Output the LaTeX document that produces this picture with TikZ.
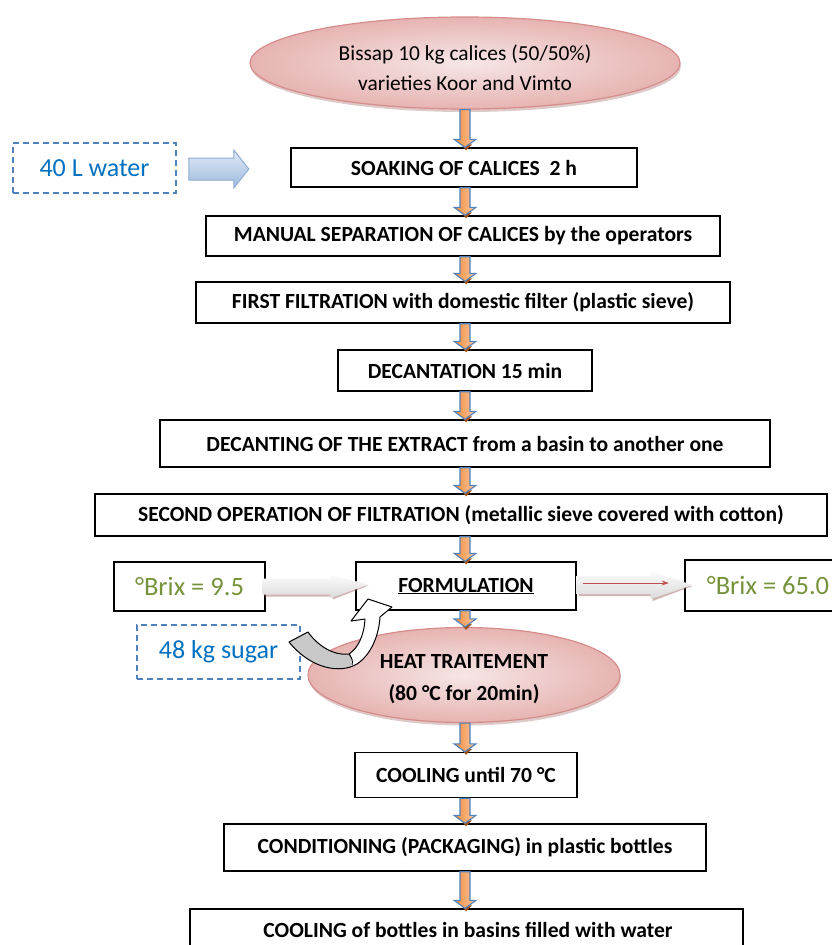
\documentclass[tikz,border=0pt]{standalone}
\usepackage{fontspec}
\setmainfont{Carlito}
\usetikzlibrary{calc,shapes.geometric,shadows,arrows.meta}
\definecolor{txtblue}{RGB}{0,112,192}
\definecolor{txtgreen}{RGB}{118,146,60}
\definecolor{dashblue}{RGB}{79,129,189}
\definecolor{ellline}{RGB}{214,140,138}
\definecolor{ellin}{RGB}{246,230,230}
\definecolor{ellout}{RGB}{230,180,178}
\definecolor{arrorange}{RGB}{240,140,60}
\definecolor{arrlight}{RGB}{250,200,160}
\definecolor{wblueA}{RGB}{224,234,246}
\definecolor{wblueB}{RGB}{158,186,222}
\definecolor{wblueline}{RGB}{140,172,212}
\definecolor{redarr}{RGB}{192,80,77}
\definecolor{shadowbrown}{RGB}{170,120,118}
\definecolor{tipbrown}{RGB}{160,80,20}
\definecolor{curvgray}{RGB}{200,200,200}
\tikzset{
  stepbox/.style={draw=black, line width=1.4pt, inner sep=0pt, font=\bfseries\fontsize{21.6}{25}\selectfont},
  infobox/.style={draw=dashblue, line width=1.6pt, dash pattern=on 6pt off 4pt, inner sep=0pt, text=txtblue, font=\fontsize{26}{30}\selectfont},
  brixbox/.style={draw=black, line width=1.4pt, inner sep=0pt, text=txtgreen, font=\fontsize{26.5}{30}\selectfont},
  oval/.style={ellipse, draw=ellline, line width=1.2pt, inner color=ellin, outer color=ellout, inner sep=0pt,
    drop shadow={shadow xshift=1pt, shadow yshift=-3pt, fill=shadowbrown, opacity=0.4}},
  ovaltext/.style={align=center, inner sep=0pt},
  blkarrow/.style={draw=dashblue, line width=1.1pt, left color=arrorange, right color=arrlight, line join=miter},
  waterarrow/.style={draw=wblueline, line width=1pt, top color=wblueA, bottom color=wblueB},
  grayarrow/.style={draw=none, top color=gray!3, bottom color=gray!28},
  grayshadow/.style={fill=shadowbrown, opacity=0.55},
}
\newcommand\flowarrow[2]{%
  \path (#1.south -| axis) coordinate (fa-s) (#2.north -| axis) coordinate (fa-t);
  \fill[tipbrown] ($(fa-t)+(-4,-3)$) -- ($(fa-t)+(7,-3)$) -- ($(fa-t)+(1,3)$) -- cycle;
  \draw[blkarrow] ($(fa-s)+(-5,0)$) -- ($(fa-t)+(-5,-8)$) -- ($(fa-t)+(-11,-8)$) -- (fa-t)
     -- ($(fa-t)+(11,-8)$) -- ($(fa-t)+(5,-8)$) -- ($(fa-s)+(5,0)$) -- cycle;}
\def\curvpath{(289,642) .. controls (311,669) and (340,674) .. (357,664) .. controls (372,654) and (379,634) .. (380,617) -- (392,607) -- (368,599) -- (351,621) -- (365,619) .. controls (364,636) and (358,648) .. (349,654) .. controls (334,656) and (318,646) .. (308,632) -- cycle}
\begin{document}
\begin{tikzpicture}[x=1pt,y=-1pt]
\useasboundingbox (0,0) rectangle (832,945);
\coordinate (axis) at (465,0);

% ovals
\node[oval, minimum width=430pt, minimum height=92pt] (src) at (465,63) {};
\node[ovaltext, font=\fontsize{21.4}{30}\selectfont] (srctxt) at (465,68)
  {Bissap 10 kg calices (50/50\%)\\varieties Koor and Vimto};
\node[oval, minimum width=312pt, minimum height=95pt] (heat) at (464,675) {};
\node[ovaltext, font=\bfseries\fontsize{21.6}{32}\selectfont] (heattxt) at (464,679)
  {HEAT TRAITEMENT\\(80 °C for 20min)};

% process boxes
\node[stepbox, minimum width=346pt, minimum height=39pt] (b1) at (464,167.5) {SOAKING OF CALICES\ \ 2 h};
\node[stepbox, minimum width=514pt, minimum height=40pt] (b2) at (463,236) {MANUAL SEPARATION OF CALICES by the operators};
\node[stepbox, minimum width=534pt, minimum height=41pt] (b3) at (463,302.5) {FIRST FILTRATION with domestic filter (plastic sieve)};
\node[stepbox, minimum width=254pt, minimum height=41pt] (b4) at (465,370.5) {DECANTATION 15 min};
\node[stepbox, minimum width=610pt, minimum height=47pt] (b5) at (465,443.5) {DECANTING OF THE EXTRACT from a basin to another one};
\node[stepbox, minimum width=732pt, minimum height=42pt] (b6) at (461,515) {SECOND OPERATION OF FILTRATION (metallic sieve covered with cotton)};
\node[stepbox, minimum width=220pt, minimum height=48pt] (form) at (466,586) {\underline{FORMULATION}};
\node[stepbox, minimum width=222pt, minimum height=45pt] (cool) at (466,775) {COOLING until 70 °C};
\node[stepbox, minimum width=482pt, minimum height=47pt] (cond) at (465,847.5) {CONDITIONING (PACKAGING) in plastic bottles};
\node[stepbox, minimum width=553pt, minimum height=52pt] (last) at (466.5,935) {};
\node[font=\bfseries\fontsize{21.6}{25}\selectfont] (lasttxt) at (468,930) {COOLING of bottles in basins filled with water};

% side boxes
\node[infobox, minimum width=163pt, minimum height=50pt] (water) at (94.5,168) {40 L water};
\node[infobox, minimum width=163pt, minimum height=54pt] (sugar) at (218.5,652) {48 kg sugar};
\node[brixbox, minimum width=151pt, minimum height=49pt] (brixA) at (189.5,586.5) {°Brix = 9.5};
\node[brixbox, minimum width=160pt, minimum height=51pt] (brixB) at (765,585.5) {\hspace*{6pt}°Brix = 65.0};

% flow arrows
\flowarrow{src}{b1}
\flowarrow{b1}{b2}
\flowarrow{b2}{b3}
\flowarrow{b3}{b4}
\flowarrow{b4}{b5}
\flowarrow{b5}{b6}
\flowarrow{b6}{form}
\flowarrow{form}{heat}
\flowarrow{heat}{cool}
\flowarrow{cool}{cond}
\flowarrow{cond}{last}

% water arrow
\coordinate (ws) at ($(water.east)+(12,1)$);
\draw[waterarrow] ($(ws)+(0,-11)$) -- ($(ws)+(45,-11)$) -- ($(ws)+(45,-19)$) -- ($(ws)+(60,0)$)
   -- ($(ws)+(45,19)$) -- ($(ws)+(45,11)$) -- ($(ws)+(0,11)$) -- cycle;

% brix 9.5 arrow
\coordinate (ls) at ($(brixA.east)+(-3,0)$);
\fill[grayshadow] ($(ls)+(2,2)$) -- ($(ls)+(70,2)$) -- ($(ls)+(70,0)$) -- ($(ls)+(106,-1)$) -- ($(ls)+(70,13)$) -- ($(ls)+(70,10)$) -- ($(ls)+(2,10)$) -- cycle;
\draw[grayarrow] ($(ls)+(0,-8)$) -- ($(ls)+(68,-8)$) -- ($(ls)+(68,-11.5)$) -- ($(ls)+(106,-2)$)
   -- ($(ls)+(68,11.5)$) -- ($(ls)+(68,8)$) -- ($(ls)+(0,8)$) -- cycle;

% brix 65 arrow
\coordinate (rs) at ($(form.east)+(0,-1)$);
\fill[grayshadow] ($(rs)+(2,3)$) -- ($(rs)+(76,3)$) -- ($(rs)+(76,0)$) -- ($(rs)+(116,1)$) -- ($(rs)+(76,16)$) -- ($(rs)+(76,11)$) -- ($(rs)+(2,11)$) -- cycle;
\draw[grayarrow] ($(rs)+(0,-9)$) -- ($(rs)+(74,-9)$) -- ($(rs)+(74,-14)$) -- ($(rs)+(116,0)$)
   -- ($(rs)+(74,14)$) -- ($(rs)+(74,9)$) -- ($(rs)+(0,9)$) -- cycle;
\draw[redarr, line width=0.8pt, -{Stealth[length=7pt,width=5pt]}] ($(rs)+(6,-2)$) -- ($(rs)+(92,-2)$);

% curved sugar arrow
\fill[white] \curvpath;
\begin{scope}
  \clip \curvpath;
  \fill[curvgray] (280,600) rectangle (351,690);
\end{scope}
\draw[black, line width=1pt, line join=round] \curvpath;
\draw[black, line width=1pt] (349,654) .. controls (352,658) and (353,661) .. (352,665);
\end{tikzpicture}
\end{document}
